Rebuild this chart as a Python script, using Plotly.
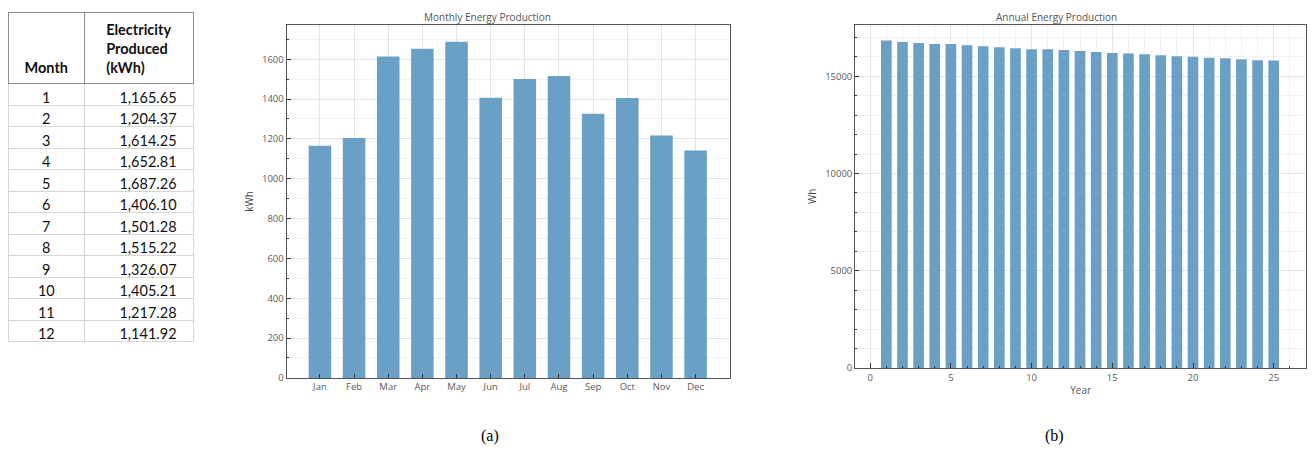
import plotly.graph_objects as go

# ---------------- data ----------------
month_numbers = [1, 2, 3, 4, 5, 6, 7, 8, 9, 10, 11, 12]
month_labels = ["Jan", "Feb", "Mar", "Apr", "May", "Jun", "Jul", "Aug", "Sep", "Oct", "Nov", "Dec"]
monthly_kwh = [1165.65, 1204.37, 1614.25, 1652.81, 1687.26, 1406.10,
               1501.28, 1515.22, 1326.07, 1405.21, 1217.28, 1141.92]

years = list(range(1, 26))
annual_wh = [16837, 16770, 16717, 16667, 16660, 16599, 16549, 16498, 16448, 16397,
             16390, 16347, 16296, 16246, 16195, 16178, 16128, 16077, 16027, 16010,
             15960, 15926, 15875, 15825, 15808]

table_header = ["\u00a0<br>\u00a0<br><b>Month</b>", "<b>Electricity<br>Produced<br>(kWh)</b>"]

monthly_title = "Monthly Energy Production"
annual_title = "Annual Energy Production"

# ---------------- style ----------------
# the page body has an 8px margin: the figure is sized to fit inside the window
OX, OY = 8, 8
FW, FH = 1315 - 2 * OX, 456 - 2 * OY
BAR = "#6aa0c6"
TICKFONT = dict(family="Open Sans", size=9.5, color="#5a5a5a")
GRID = "#e4e4e4"
MINORGRID = "#f1f1f1"


def px(x):
    return min(max((x - OX) / FW, 0), 1)


def py(y):
    return min(max(1 - (y - OY) / FH, 0), 1)


fig = go.Figure()

fig.add_trace(go.Table(
    domain=dict(x=[px(7), px(194)], y=[0, py(13)]),
    columnwidth=[77, 109],
    header=dict(values=table_header, align=["center", "center"],
                fill_color="white", line=dict(color="#8f8f8f", width=1),
                font=dict(family="Lato", size=14.5, color="#111"), height=69),
    cells=dict(values=[month_numbers, monthly_kwh], format=[None, ",.2f"],
               suffix=[None, "\u2007"],
               align=["center", "right"], fill_color="white",
               line=dict(color="#d6d6d6", width=1),
               font=dict(family="Lato", size=14.5, color="#111"), height=21.5),
))

fig.add_trace(go.Bar(x=month_labels, y=monthly_kwh, marker=dict(color=BAR, line=dict(width=0)),
                     width=0.66, xaxis="x", yaxis="y", showlegend=False))
fig.add_trace(go.Bar(x=years, y=annual_wh, marker=dict(color=BAR, line=dict(width=0)),
                     width=0.66, xaxis="x2", yaxis="y2", showlegend=False))

axis_common = dict(showline=True, linecolor="#555", linewidth=1.3, mirror=True,
                   ticks="inside", tickcolor="#333", tickfont=TICKFONT,
                   gridcolor=GRID, zeroline=False)

fig.update_layout(
    width=FW, height=FH,
    margin=dict(l=0, r=0, t=0, b=0),
    paper_bgcolor="white", plot_bgcolor="white",
    xaxis=dict(domain=[px(287), px(731)], anchor="y", type="category",
               range=[-0.97, 12.02], showgrid=True, ticklen=4, **axis_common),
    yaxis=dict(domain=[py(383), py(25)], anchor="x", range=[0, 1773],
               tick0=0, dtick=200, ticklen=4, showgrid=True, tickformat="d",
               minor=dict(dtick=100, ticks="inside", ticklen=2, tickcolor="#333",
                          showgrid=True, gridcolor=MINORGRID),
               title=dict(text="kWh", font=dict(family="Open Sans", size=10, color="#444"),
                          standoff=6),
               **axis_common),
    xaxis2=dict(domain=[px(856), px(1310)], anchor="y2", range=[-0.92, 27.0],
                tick0=0, dtick=5, ticklen=5, showgrid=True,
                minor=dict(dtick=1, ticks="inside", ticklen=2, tickcolor="#333",
                           showgrid=True, gridcolor=MINORGRID),
                title=dict(text="Year", font=dict(family="Open Sans", size=10, color="#555"),
                           standoff=4),
                **axis_common),
    yaxis2=dict(domain=[py(373), py(25)], anchor="x2", range=[0, 17650],
                tick0=0, dtick=5000, ticklen=4, showgrid=True, tickformat="d",
                minor=dict(dtick=1000, ticks="inside", ticklen=2, tickcolor="#333",
                           showgrid=True, gridcolor=MINORGRID),
                title=dict(text="Wh", font=dict(family="Open Sans", size=10, color="#444"),
                           standoff=6),
                **axis_common),
    annotations=[
        dict(text=monthly_title, x=px(488), y=1, xref="paper", yref="paper",
             xanchor="center", yanchor="top",
             showarrow=False, font=dict(family="Open Sans", size=10, color="#555")),
        dict(text=annual_title, x=px(1057), y=1, xref="paper", yref="paper",
             xanchor="center", yanchor="top",
             showarrow=False, font=dict(family="Open Sans", size=10, color="#555")),
        dict(text="(a)", x=px(490), y=py(442), xref="paper", yref="paper",
             xanchor="center", yanchor="middle",
             showarrow=False, font=dict(family="Liberation Serif", size=16, color="#000")),
        dict(text="(b)", x=px(1055), y=py(442), xref="paper", yref="paper",
             xanchor="center", yanchor="middle",
             showarrow=False, font=dict(family="Liberation Serif", size=16, color="#000")),
    ],
)

fig.write_html("out.html")
